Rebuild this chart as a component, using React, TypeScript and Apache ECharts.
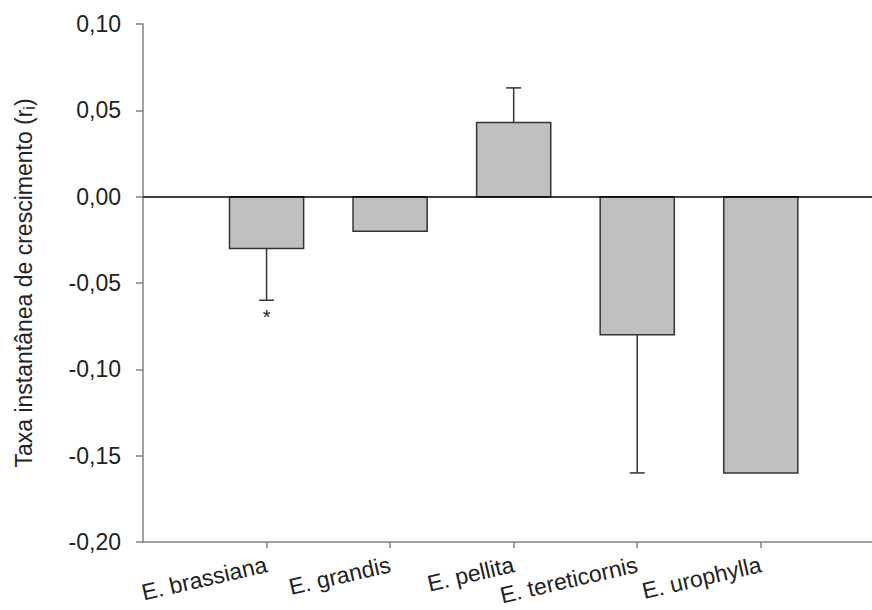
import React, { useEffect, useRef } from "react";
import * as echarts from "echarts";

const categories = ["E. brassiana", "E. grandis", "E. pellita", "E. tereticornis", "E. urophylla"];
const values = [-0.03, -0.02, 0.043, -0.08, -0.16];
const errors = [0.03, 0, 0.02, 0.08, 0];
const marks = ["*", "", "", "", ""];
const yTicks = { min: -0.2, max: 0.1, interval: 0.05 };

const FONT = "Liberation Sans, Arial, sans-serif";

export default function App() {
  const ref = useRef<HTMLDivElement>(null);
  useEffect(() => {
    if (!ref.current) return;
    const chart = echarts.init(ref.current, undefined, { renderer: "svg" });
    const data = categories.map((c, i) => [i + 1, values[i], errors[i], i]);
    chart.setOption({
      animation: false,
      backgroundColor: "#fff",
      textStyle: { fontFamily: FONT },
      grid: { left: 143, right: 0, top: 24, bottom: 68, containLabel: false },
      xAxis: {
        type: "value",
        min: 0,
        max: 5.9,
        interval: 1,
        splitLine: { show: false },
        axisLine: { onZero: false, lineStyle: { color: "#808080", width: 1.5 } },
        axisTick: { show: true, length: 6, lineStyle: { color: "#808080", width: 1.5 } },
        axisLabel: {
          rotate: 13,
          fontSize: 23,
          color: "#222",
          fontFamily: FONT,
          margin: 22,
          showMinLabel: false,
          showMaxLabel: false,
          formatter: (v: number) => categories[Math.round(v) - 1] ?? "",
        },
      },
      yAxis: {
        type: "value",
        min: yTicks.min,
        max: yTicks.max,
        interval: yTicks.interval,
        splitLine: { show: false },
        axisLine: { show: true, lineStyle: { color: "#808080", width: 1.5 } },
        axisTick: { show: true, length: 7, lineStyle: { color: "#808080", width: 1.5 } },
        axisLabel: {
          fontSize: 23,
          color: "#222",
          fontFamily: FONT,
          margin: 22,
          formatter: (v: number) => (Math.abs(v) < 1e-9 ? 0 : v).toFixed(2).replace(".", ","),
        },
        name: "Taxa instantânea de crescimento (r{sub|i})",
        nameLocation: "middle",
        nameGap: 106,
        nameRotate: 90,
        nameTextStyle: {
          fontSize: 23,
          color: "#222",
          fontFamily: FONT,
          rich: {
            sub: { fontSize: 16, verticalAlign: "bottom", padding: [10, 0, 0, 0], fontFamily: FONT, color: "#222" },
          },
        },
      },
      series: [
        {
          type: "custom",
          data,
          renderItem: (params: any, api: any) => {
            const x = api.value(0);
            const v = api.value(1);
            const e = api.value(2);
            const idx = api.value(3);
            const half = 0.3;
            const a = api.coord([x - half, 0]);
            const b = api.coord([x + half, v]);
            const children: any[] = [];
            children.push({
              type: "rect",
              shape: {
                x: Math.min(a[0], b[0]),
                y: Math.min(a[1], b[1]),
                width: Math.abs(b[0] - a[0]),
                height: Math.abs(b[1] - a[1]),
              },
              style: { fill: "#c0c0c0", stroke: "#333", lineWidth: 1.5 },
            });
            if (e > 0) {
              const end = v + Math.sign(v) * e;
              const p0 = api.coord([x, v]);
              const p1 = api.coord([x, end]);
              children.push({
                type: "line",
                shape: { x1: p0[0], y1: p0[1], x2: p1[0], y2: p1[1] },
                style: { stroke: "#333", lineWidth: 1.5 },
              });
              children.push({
                type: "line",
                shape: { x1: p1[0] - 7.5, y1: p1[1], x2: p1[0] + 7.5, y2: p1[1] },
                style: { stroke: "#333", lineWidth: 1.5 },
              });
              const m = marks[idx];
              if (m) {
                children.push({
                  type: "text",
                  style: {
                    text: m,
                    x: p1[0],
                    y: p1[1] + 7,
                    align: "center",
                    verticalAlign: "top",
                    fontSize: 20,
                    fontFamily: FONT,
                    fill: "#222",
                  },
                });
              }
            }
            return { type: "group", children };
          },
          markLine: {
            silent: true,
            symbol: "none",
            label: { show: false },
            lineStyle: { color: "#000", width: 1.5, type: "solid" },
            data: [{ yAxis: 0 }],
          },
          z: 2,
        },
      ],
    });
    return () => chart.dispose();
  }, []);
  return (
    <div
      ref={ref}
      style={{ position: "fixed", left: 0, top: 0, width: 872, height: 610 }}
    />
  );
}
